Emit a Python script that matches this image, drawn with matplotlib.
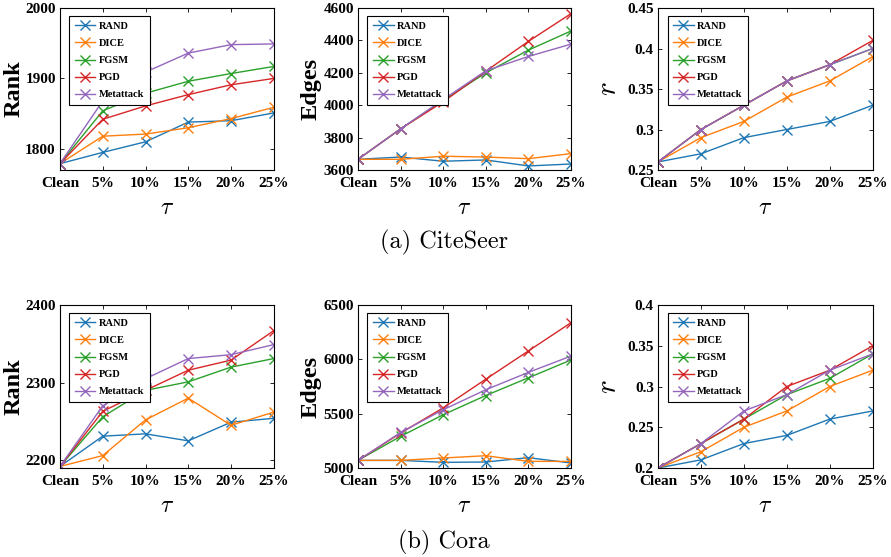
import matplotlib
matplotlib.use("Agg")
import matplotlib.pyplot as plt

plt.rcParams["mathtext.fontset"] = "cm"

taus = ["Clean", "5%", "10%", "15%", "20%", "25%"]
methods = ["RAND", "DICE", "FGSM", "PGD", "Metattack"]
colors = ["#1f77b4", "#ff7f0e", "#2ca02c", "#d62728", "#9467bd"]

# CiteSeer
cs_rank = {
    "RAND": [1779, 1795, 1810, 1838, 1840, 1851],
    "DICE": [1779, 1818, 1821, 1830, 1843, 1859],
    "FGSM": [1779, 1854, 1879, 1896, 1907, 1917],
    "PGD": [1779, 1842, 1861, 1877, 1891, 1900],
    "Metattack": [1779, 1868, 1909, 1936, 1948, 1949],
}
cs_edges = {
    "RAND": [3666, 3680, 3654, 3662, 3625, 3637],
    "DICE": [3666, 3666, 3685, 3680, 3670, 3701],
    "FGSM": [3666, 3854, 4029, 4200, 4340, 4458],
    "PGD": [3666, 3854, 4021, 4210, 4394, 4565],
    "Metattack": [3666, 3854, 4035, 4212, 4301, 4377],
}
cs_r = {
    "RAND": [0.26, 0.27, 0.29, 0.30, 0.31, 0.33],
    "DICE": [0.26, 0.29, 0.31, 0.34, 0.36, 0.39],
    "FGSM": [0.26, 0.30, 0.33, 0.36, 0.38, 0.40],
    "PGD": [0.26, 0.30, 0.33, 0.36, 0.38, 0.41],
    "Metattack": [0.26, 0.30, 0.33, 0.36, 0.38, 0.40],
}

# Cora
cora_rank = {
    "RAND": [2192, 2231, 2234, 2225, 2249, 2254],
    "DICE": [2192, 2206, 2252, 2280, 2245, 2262],
    "FGSM": [2192, 2256, 2290, 2301, 2320, 2331],
    "PGD": [2192, 2263, 2290, 2316, 2329, 2367],
    "Metattack": [2192, 2270, 2305, 2331, 2336, 2349],
}
cora_edges = {
    "RAND": [5070, 5070, 5052, 5055, 5095, 5046],
    "DICE": [5070, 5070, 5092, 5113, 5061, 5061],
    "FGSM": [5070, 5291, 5490, 5667, 5830, 5994],
    "PGD": [5070, 5321, 5554, 5817, 6077, 6337],
    "Metattack": [5070, 5327, 5536, 5720, 5880, 6030],
}
cora_r = {
    "RAND": [0.20, 0.21, 0.23, 0.24, 0.26, 0.27],
    "DICE": [0.20, 0.22, 0.25, 0.27, 0.30, 0.32],
    "FGSM": [0.20, 0.23, 0.26, 0.29, 0.31, 0.34],
    "PGD": [0.20, 0.23, 0.26, 0.30, 0.32, 0.35],
    "Metattack": [0.20, 0.23, 0.27, 0.29, 0.32, 0.34],
}

panels = [
    # data, ylabel, ylim, yticks, yticklabels, rect, ylabel x
    (cs_rank, "Rank", (1770, 2000), [1800, 1900, 2000], None,
     [0.0673, 0.6948, 0.240, 0.2908], -0.215),
    (cs_edges, "Edges", (3600, 4600), [3600, 3800, 4000, 4200, 4400, 4600], None,
     [0.4018, 0.6948, 0.239, 0.2908], -0.22),
    (cs_r, "$r$", (0.25, 0.45), [0.25, 0.3, 0.35, 0.4, 0.45],
     ["0.25", "0.3", "0.35", "0.4", "0.45"],
     [0.7385, 0.6948, 0.241, 0.2908], -0.235),
    (cora_rank, "Rank", (2190, 2400), [2200, 2300, 2400], None,
     [0.0673, 0.1598, 0.240, 0.2926], -0.215),
    (cora_edges, "Edges", (5000, 6500), [5000, 5500, 6000, 6500], None,
     [0.4018, 0.1598, 0.239, 0.2926], -0.22),
    (cora_r, "$r$", (0.2, 0.4), [0.2, 0.25, 0.3, 0.35, 0.4],
     ["0.2", "0.25", "0.3", "0.35", "0.4"],
     [0.7385, 0.1598, 0.241, 0.2926], -0.235),
]

serif = "Liberation Serif"
fig = plt.figure(figsize=(8.91, 5.57), dpi=100)

for data, ylab, ylim, yticks, yticklabels, rect, ylx in panels:
    ax = fig.add_axes(rect)
    for m, c in zip(methods, colors):
        ax.plot(range(len(taus)), data[m], color=c, marker="x", markersize=7,
                linewidth=1.0, markeredgewidth=1.0, label=m)
    ax.set_xlim(0, len(taus) - 1)
    ax.set_ylim(*ylim)
    ax.set_xticks(range(len(taus)))
    ax.set_xticklabels(taus)
    ax.set_yticks(yticks)
    if yticklabels is not None:
        ax.set_yticklabels(yticklabels)
    for lab in ax.get_xticklabels() + ax.get_yticklabels():
        lab.set_fontfamily(serif)
        lab.set_fontweight("bold")
        lab.set_fontsize(11)
    ax.tick_params(direction="in", top=True, right=True, length=3, width=0.6)
    ax.tick_params(axis="x", pad=5)
    ax.tick_params(axis="y", pad=3)
    for s in ax.spines.values():
        s.set_linewidth(0.8)
    if ylab.startswith("$"):
        ax.set_ylabel(ylab, fontsize=21, va="center")
    else:
        ax.set_ylabel(ylab, fontsize=17.5, fontfamily=serif, fontweight="bold",
                      va="center")
    ax.yaxis.set_label_coords(ylx, 0.5)
    ax.set_xlabel(r"$\tau$", fontsize=17, labelpad=4)
    leg = ax.legend(loc="upper left", fancybox=False, edgecolor="black",
                    framealpha=1, borderpad=0.5, labelspacing=0.75,
                    handlelength=2.0, handletextpad=0.35,
                    bbox_to_anchor=(0.02, 0.98),
                    prop={"family": serif, "weight": "bold", "size": 7.5})
    leg.get_frame().set_linewidth(0.8)

fig.text(0.498, 1 - 242 / 557, "(a) CiteSeer", ha="center", va="center",
         fontsize=17.5, fontfamily="cmr10")
fig.text(0.498, 1 - 542 / 557, "(b) Cora", ha="center", va="center",
         fontsize=17.5, fontfamily="cmr10")

fig.savefig("out.png", dpi=100)
